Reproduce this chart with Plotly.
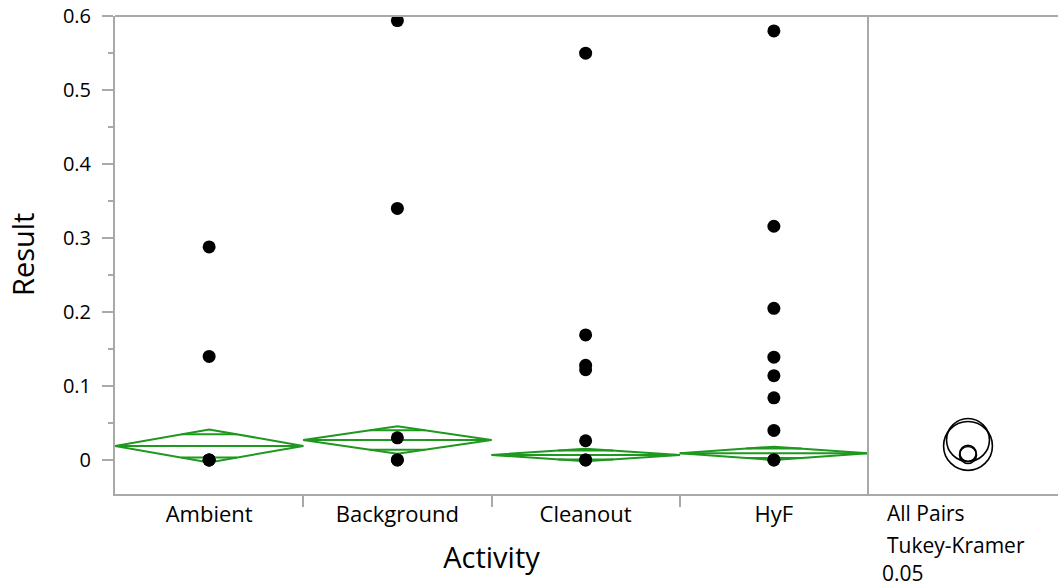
import math
import plotly.graph_objects as go

# ---- data ----
categories = ["Ambient", "Background", "Cleanout", "HyF"]
ambient_vals = [0.288, 0.14, 0.0, 0.0, 0.0]
background_vals = [0.594, 0.34, 0.03, 0.0, 0.0]
cleanout_vals = [0.55, 0.169, 0.128, 0.122, 0.026, 0.0, 0.0]
hyf_vals = [0.58, 0.316, 0.205, 0.139, 0.114, 0.084, 0.04, 0.0, 0.0]
group_means = [0.019, 0.027, 0.0068, 0.009]
ci_half = [0.0223, 0.0185, 0.0085, 0.009]
circle_radius = [0.033, 0.029, 0.0115, 0.011]
y_ticks = [0, 0.1, 0.2, 0.3, 0.4, 0.5, 0.6]
panel_text = ["All Pairs", "Tukey-Kramer", "0.05"]

FONT = "Open Sans"
GREEN = "rgb(30,152,30)"
GRAY = "#a9a9a9"

OFF = 0  # page body margin removed via post_script
PAGE_W, PAGE_H = 1058, 587
W, H = PAGE_W - OFF, PAGE_H - OFF
# plot area in page pixels
PX0, PX1, PY0, PY1 = 115, 1058, 16, 494
ML, MR, MT, MB = PX0 - OFF, 0, PY0 - OFF, H - (PY1 - OFF)
plot_w = W - ML - MR
plot_h = H - MT - MB
split = (868 - PX0) / plot_w

fig = go.Figure()

# diamonds
for i, (m, h) in enumerate(zip(group_means, ci_half)):
    fig.add_trace(go.Scatter(
        x=[i - 0.5, i, i + 0.5, i, i - 0.5],
        y=[m, m + h, m, m - h, m],
        mode="lines", line=dict(color=GREEN, width=2),
        hoverinfo="skip", showlegend=False))
    o = h / math.sqrt(2)
    f = 0.5 * (1 - 1 / math.sqrt(2))
    fig.add_trace(go.Scatter(
        x=[i - 0.5, i + 0.5, None, i - f, i + f, None, i - f, i + f],
        y=[m, m, None, m + o, m + o, None, m - o, m - o],
        mode="lines", line=dict(color=GREEN, width=2),
        hoverinfo="skip", showlegend=False))

# points
all_vals = [ambient_vals, background_vals, cleanout_vals, hyf_vals]
for i, vals in enumerate(all_vals):
    fig.add_trace(go.Scatter(
        x=[i] * len(vals), y=vals, mode="markers",
        marker=dict(color="black", size=13),
        showlegend=False, name=categories[i]))

# dummy trace for right panel axis
fig.add_trace(go.Scatter(x=[0], y=[0], xaxis="x2", yaxis="y", mode="markers",
                         marker=dict(opacity=0), hoverinfo="skip", showlegend=False))

# comparison circles
for m, r in zip(group_means, circle_radius):
    fig.add_shape(type="circle", xref="x2", yref="y",
                  x0=-r, x1=r, y0=m - r, y1=m + r,
                  line=dict(color="black", width=1.6))

# frame lines
fig.add_shape(type="line", xref="paper", yref="paper", x0=0, x1=1, y0=1, y1=1,
              line=dict(color=GRAY, width=2))
fig.add_shape(type="line", xref="paper", yref="paper", x0=split, x1=split, y0=0, y1=1,
              line=dict(color=GRAY, width=2))

# right panel text (page pixel positions)
ypix = [513, 545, 573]
xpix = [885, 885, 880]
for t, xp, yp in zip(panel_text, xpix, ypix):
    fig.add_annotation(text=t, xref="paper", yref="paper",
                       x=(xp - PX0) / plot_w, y=(PY1 - yp) / plot_h,
                       xanchor="left", yanchor="middle", showarrow=False,
                       font=dict(family=FONT, size=21, color="black"))

# y axis title
fig.add_annotation(text="Result", xref="paper", yref="paper",
                   x=(22 - PX0) / plot_w, y=(PY1 - 255) / plot_h, textangle=-90,
                   xanchor="center", yanchor="middle", showarrow=False,
                   font=dict(family=FONT, size=29, color="black"))

y_range = [-0.046, 0.6002]
px_per_unit = plot_h / (y_range[1] - y_range[0])
panel_px = plot_w * (1 - split)
x2_left = 100 / px_per_unit
x2_right = (panel_px - 100) / px_per_unit

fig.update_layout(
    width=W, height=H,
    margin=dict(l=ML, r=MR, t=MT, b=MB, autoexpand=False),
    plot_bgcolor="white", paper_bgcolor="white",
    font=dict(family=FONT, color="black"),
    xaxis=dict(
        domain=[0, split], range=[-0.5, 3.5], automargin=False,
        tickmode="array", tickvals=list(range(len(categories))), ticktext=categories,
        ticks="", showgrid=False, zeroline=False,
        showline=True, linecolor=GRAY, linewidth=2,
        tickfont=dict(family=FONT, size=22, color="black"),
        minor=dict(tickmode="array", tickvals=[0.5, 1.5, 2.5], ticks="outside",
                   ticklen=11, tickcolor=GRAY, tickwidth=1.5, showgrid=False),
        title=dict(text="Activity", font=dict(family=FONT, size=29, color="black"), standoff=20),
    ),
    xaxis2=dict(
        domain=[split, 1], range=[-x2_left, x2_right], anchor="y", automargin=False,
        showticklabels=False, ticks="", showgrid=False, zeroline=False,
        showline=True, linecolor=GRAY, linewidth=2,
    ),
    yaxis=dict(
        range=y_range, tickmode="array", tickvals=y_ticks, automargin=False,
        ticktext=[("%g" % v) for v in y_ticks],
        ticks="outside", ticklen=11, tickcolor=GRAY, tickwidth=1.5,
        showgrid=False, zeroline=False,
        showline=True, linecolor=GRAY, linewidth=2,
        ticklabelstandoff=7, ticklabeloverflow="allow",
        tickfont=dict(family=FONT, size=20, color="black"),
        minor=dict(dtick=0.05, tick0=0, ticks="outside", ticklen=5,
                   tickcolor=GRAY, tickwidth=1.5, showgrid=False),
    ),
)

fig.write_html("out.html", config={"displayModeBar": False},
               post_script="document.body.style.margin='0';")
